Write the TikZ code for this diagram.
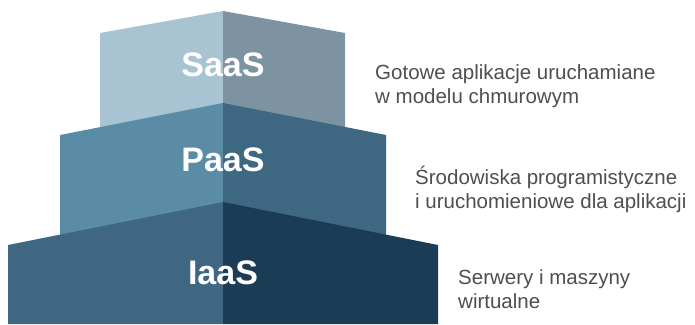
\documentclass[tikz,border=0pt]{standalone}
\usepackage{fontspec}
\setmainfont{Liberation Sans}
\usetikzlibrary{positioning}
\definecolor{saasL}{HTML}{A8C3D2}
\definecolor{saasR}{HTML}{7E93A2}
\definecolor{paasL}{HTML}{5A8CA6}
\definecolor{paasR}{HTML}{3E6782}
\definecolor{iaasL}{HTML}{3F6782}
\definecolor{iaasR}{HTML}{1A3C55}
\definecolor{descgray}{HTML}{4E4E4E}
\tikzstyle{layer} = [font=\bfseries\fontsize{34}{34}\selectfont, text=white]
\tikzstyle{desc} = [anchor=west, align=left, inner sep=0pt,
    font=\fontsize{20.5}{24}\selectfont, text=descgray]

\begin{document}
\begin{tikzpicture}[x=1pt,y=-1pt]
            \useasboundingbox (0,0) rectangle (695,324);
            % SaaS
            \fill [saasL] (100,33) -- (223,11) -- (223,140) -- (100,140) -- cycle;
            \fill [saasR] (223,11) -- (345,33) -- (345,140) -- (223,140) -- cycle;
            % PaaS
            \fill [paasL] (60,135) -- (223,103) -- (223,250) -- (60,250) -- cycle;
            \fill [paasR] (223,103) -- (386,135) -- (386,250) -- (223,250) -- cycle;
            % IaaS
            \fill [iaasL] (8,245) -- (223,202) -- (223,324) -- (8,324) -- cycle;
            \fill [iaasR] (223,202) -- (438,245) -- (438,324) -- (223,324) -- cycle;

            \node (saas) [layer] at (223,65) {SaaS};
            \node (paas) [layer] at (223,160) {PaaS};
            \node (iaas) [layer] at (223,273) {IaaS};

            \node (saas_txt) [desc] at (375,86) {Gotowe aplikacje uruchamiane\\w modelu chmurowym};
            \node (paas_txt) [desc] at (415,189) {Środowiska programistyczne\\i uruchomieniowe dla aplikacji};
            \node (iaas_txt) [desc] at (458,289) {Serwery i maszyny\\wirtualne};
        \end{tikzpicture}
\end{document}
